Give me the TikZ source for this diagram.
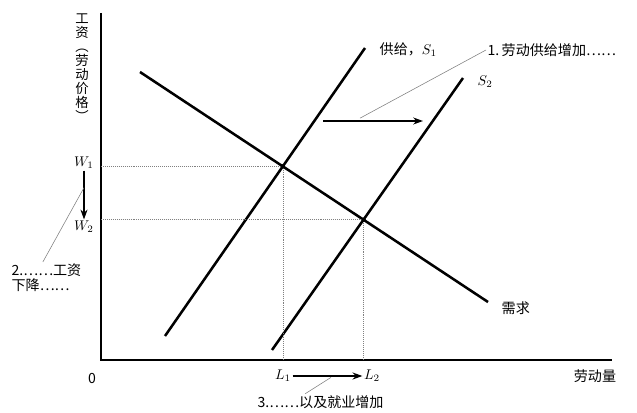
\documentclass[tikz,border=0pt]{standalone}
\usepackage{fontspec}
\newfontfamily\cjk{Noto Sans CJK SC}
\usetikzlibrary{arrows.meta,calc}
\tikzset{
  curve/.style={line width=1.8pt},
  guide/.style={densely dotted, gray},
  note/.style={gray, thin},
  shiftarrow/.style={-{Stealth[length=7pt,width=5pt]}, line width=1pt},
  lbl/.style={font=\cjk\fontsize{10}{10.5}\selectfont, inner sep=1pt}
}
\begin{document}
\begin{tikzpicture}[x=0.025cm, y=-0.025cm]
  \useasboundingbox (0,0) rectangle (637,413);
  % axes
  \coordinate (O) at (101,360);
  \draw[line width=1.2pt] (101,13) -- (O) -- (612,360);
  \node[lbl] (zero) at (92,378) {0};
  \node[lbl, font=\cjk\fontsize{9.5}{10}\selectfont, align=center, anchor=north] (ylab) at (82,12)
    {工\\资\\︵\\劳\\动\\价\\格\\︶};
  \node[lbl] (xlab) at (595,376) {劳动量};

  % demand and the two supply curves
  \coordinate (D1) at (140,72);  \coordinate (D2) at (488,302);
  \coordinate (Sa1) at (165,336); \coordinate (Sa2) at (365,48);
  \coordinate (Sb1) at (272,350); \coordinate (Sb2) at (463,78);
  \draw[curve] (D1) -- (D2);
  \draw[curve] (Sa1) -- (Sa2);
  \draw[curve] (Sb1) -- (Sb2);
  \node[lbl, anchor=west] (dem) at (500,308) {需求};
  \node[lbl, anchor=west] (sup1) at (378,50) {供给，$S_1$};
  \node[lbl, anchor=west] (sup2) at (476,82) {$S_2$};

  % equilibria
  \coordinate (E1) at (intersection of D1--D2 and Sa1--Sa2);
  \coordinate (E2) at (intersection of D1--D2 and Sb1--Sb2);
  \draw[guide] (O |- E1) -- (E1) -- (E1 |- O);
  \draw[guide] (O |- E2) -- (E2) -- (E2 |- O);
  \fill (E1) circle[radius=1.6pt];
  \fill (E2) circle[radius=1.6pt];

  % wage fall
  \node[lbl] (w1) at (84,163) {$W_1$};
  \node[lbl] (w2) at (84,227) {$W_2$};
  \draw[shiftarrow] (w1) -- coordinate[pos=0.35] (wa) (w2);
  \node[lbl, align=left, anchor=north west] (n2) at (10,262) {2.……工资\\下降……};
  \draw[note] ($(n2.north west)!0.45!(n2.north east)$) -- (wa);

  % supply shift
  \coordinate (sh1) at (323,121); \coordinate (sh2) at (423,121);
  \draw[shiftarrow] (sh1) -- coordinate[pos=0.37] (sa) (sh2);
  \node[lbl, anchor=west] (n1) at (486,50) {1.\,劳动供给增加……};
  \draw[note] (n1.west) -- ([yshift=2pt]sa);

  % employment rise
  \node[lbl] (l1) at (283,376) {$L_1$};
  \node[lbl] (l2) at (372,376) {$L_2$};
  \draw[shiftarrow] (l1) -- coordinate[pos=0.55] (la) (l2);
  \node[lbl, anchor=west] (n3) at (256,402) {3.……以及就业增加};
  \draw[note] ($(n3.north west)!0.38!(n3.north east)$) -- ([yshift=-1pt]la);
\end{tikzpicture}
\end{document}
